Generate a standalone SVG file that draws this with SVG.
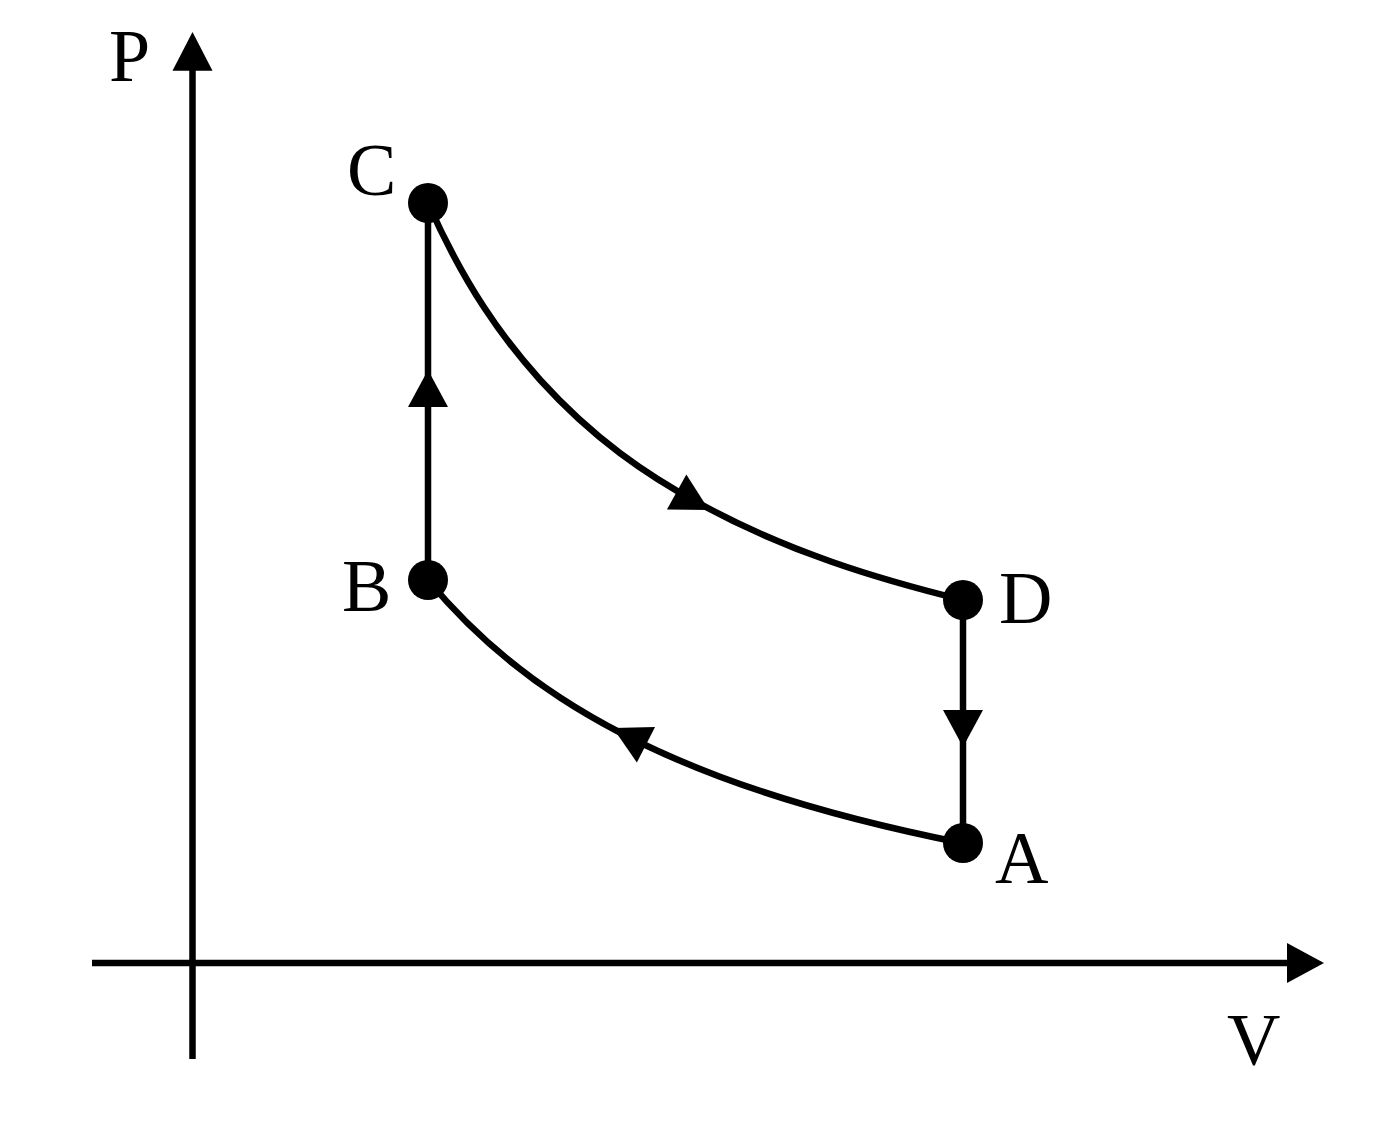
<svg xmlns="http://www.w3.org/2000/svg" width="1394" height="1128" viewBox="0 0 1394 1128">
  <style>
    .ln { fill: none; stroke: #000; stroke-width: 6.5; }
    .lbl { font-family: "Liberation Serif", "Times New Roman", serif; font-size: 74px; fill: #000; }
    .dot { fill: #000; }
  </style>
  <defs>
    <path id="tri" d="M0,0 L-37,-20 L-37,20 Z" fill="#000"/>
  </defs>
  <rect x="0" y="0" width="1394" height="1128" fill="#fff"/>

  <g id="axes">
    <line class="ln" x1="192.5" y1="1059" x2="192.5" y2="68"/>
    <line class="ln" x1="92" y1="963" x2="1288" y2="963"/>
    <use href="#tri" transform="translate(192.5,32) rotate(-90) scale(1.05,1)"/>
    <use href="#tri" transform="translate(1324,963)"/>
    <text class="lbl" x="109" y="81">P</text>
    <text class="lbl" x="1227" y="1065">V</text>
  </g>

  <g id="connectors">
    <line class="ln" x1="428" y1="580" x2="428" y2="203"/>
    <line class="ln" x1="963" y1="600" x2="963" y2="843"/>
    <path class="ln" d="M428,203 C465.33,286.96 502.67,338.37 540,379.7 C593.33,438.74 646.67,474.89 700,503.9 C787.67,551.59 875.33,578.42 963,600"/>
    <path class="ln" d="M428,580 C472,633.24 516,668.72 560,697.5 C613.33,732.38 666.67,756.7 720,776.7 C800.67,806.95 881.33,826.88 962,843"/>
    <use href="#tri" transform="translate(428,370) rotate(-90)"/>
    <use href="#tri" transform="translate(963,747) rotate(90)"/>
    <use href="#tri" transform="translate(709,510) rotate(29)"/>
    <use href="#tri" transform="translate(613,728) rotate(207)"/>
  </g>

  <g id="node-C">
    <circle class="dot" cx="428" cy="203" r="20"/>
    <text class="lbl" x="347" y="195">C</text>
  </g>
  <g id="node-B">
    <circle class="dot" cx="428" cy="580" r="20"/>
    <text class="lbl" x="342" y="611">B</text>
  </g>
  <g id="node-D">
    <circle class="dot" cx="963" cy="600" r="20"/>
    <text class="lbl" x="999" y="623">D</text>
  </g>
  <g id="node-A">
    <circle class="dot" cx="963" cy="843" r="20"/>
    <text class="lbl" x="995" y="883">A</text>
  </g>
</svg>
